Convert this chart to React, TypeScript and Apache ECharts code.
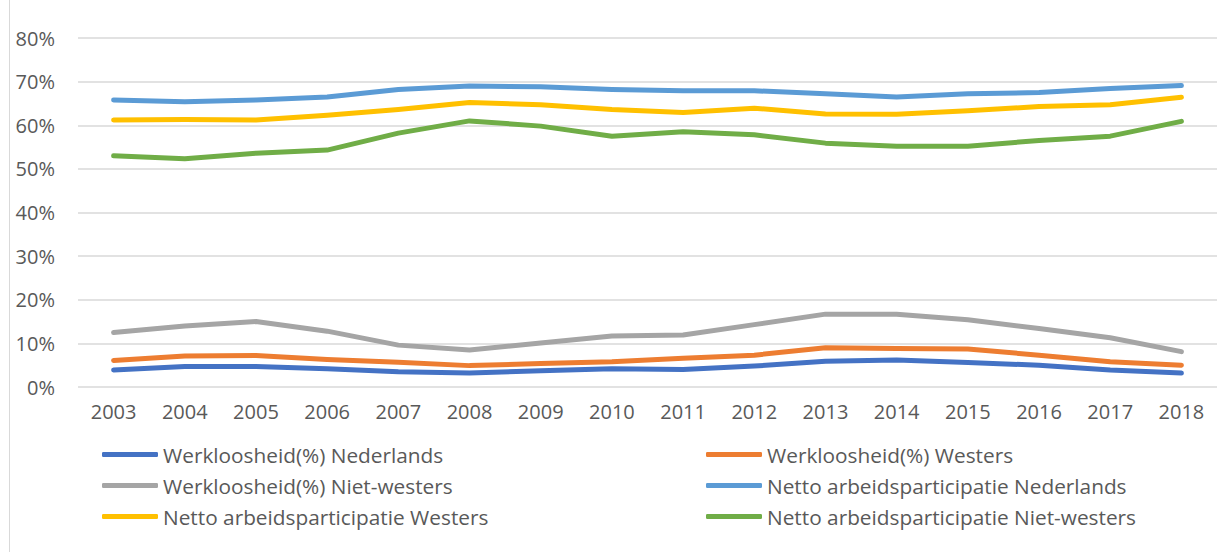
import React, { useEffect, useRef } from "react";
import * as echarts from "echarts";

const years = ["2003", "2004", "2005", "2006", "2007", "2008", "2009", "2010", "2011", "2012", "2013", "2014", "2015", "2016", "2017", "2018"];

const werkNederlands = [3.9, 4.7, 4.7, 4.2, 3.5, 3.2, 3.7, 4.2, 4.0, 4.8, 5.9, 6.2, 5.6, 5.0, 3.9, 3.2];
const werkWesters = [6.1, 7.1, 7.2, 6.3, 5.7, 4.9, 5.4, 5.8, 6.6, 7.3, 9.0, 8.8, 8.7, 7.3, 5.8, 5.0];
const werkNietWesters = [12.5, 14.0, 15.0, 12.8, 9.6, 8.5, 10.1, 11.7, 11.9, 14.3, 16.7, 16.7, 15.4, 13.4, 11.3, 8.1];
const nettoNederlands = [65.8, 65.4, 65.8, 66.5, 68.2, 69.0, 68.8, 68.2, 67.9, 67.9, 67.2, 66.5, 67.2, 67.5, 68.4, 69.1];
const nettoWesters = [61.2, 61.3, 61.2, 62.3, 63.6, 65.2, 64.7, 63.6, 62.9, 63.9, 62.6, 62.5, 63.3, 64.3, 64.7, 66.4];
const nettoNietWesters = [53.0, 52.3, 53.6, 54.3, 58.2, 61.0, 59.8, 57.5, 58.5, 57.8, 55.9, 55.2, 55.2, 56.5, 57.5, 60.9];

const seriesDefs = [
  { name: "Werkloosheid(%) Nederlands", data: werkNederlands, color: "#4472C4" },
  { name: "Werkloosheid(%) Westers", data: werkWesters, color: "#ED7D31" },
  { name: "Werkloosheid(%) Niet-westers", data: werkNietWesters, color: "#A5A5A5" },
  { name: "Netto arbeidsparticipatie Nederlands", data: nettoNederlands, color: "#5B9BD5" },
  { name: "Netto arbeidsparticipatie Westers", data: nettoWesters, color: "#FFC000" },
  { name: "Netto arbeidsparticipatie Niet-westers", data: nettoNietWesters, color: "#70AD47" },
];

const FONT = "'Open Sans', sans-serif";
const TEXT = "#595959";
const SIZE = 20;

export default function App() {
  const ref = useRef<HTMLDivElement>(null);

  useEffect(() => {
    if (!ref.current) return;
    const chart = echarts.init(ref.current, null, { renderer: "svg" });

    // two-column legend, one legend component per entry
    const legends = seriesDefs.map((s, i) => ({
      data: [s.name],
      left: i % 2 === 0 ? 102 : 706,
      top: 444 + Math.floor(i / 2) * 31,
      itemWidth: 56,
      itemHeight: 5,
      icon: "roundRect",
      padding: 0,
      textStyle: { color: TEXT, fontSize: 20.8, fontFamily: FONT },
    }));

    chart.setOption({
      animation: false,
      backgroundColor: "#ffffff",
      grid: { left: 78, right: -4, top: 38, bottom: 165, containLabel: false },
      legend: legends,
      xAxis: {
        type: "category",
        data: years,
        boundaryGap: true,
        axisLine: { show: false },
        axisTick: { show: false },
        axisLabel: { color: TEXT, fontSize: SIZE, fontFamily: FONT, margin: 14 },
      },
      yAxis: {
        type: "value",
        min: 0,
        max: 80,
        interval: 10,
        axisLine: { show: false },
        axisTick: { show: false },
        splitLine: { lineStyle: { color: "#D9D9D9", width: 1.5 } },
        axisLabel: { color: TEXT, fontSize: SIZE, fontFamily: FONT, margin: 23, formatter: "{value}%" },
      },
      graphic: [
        {
          type: "line",
          shape: { x1: 9.5, y1: 0, x2: 9.5, y2: 552 },
          style: { stroke: "#D9D9D9", lineWidth: 1 },
        },
      ],
      series: seriesDefs.map((s) => ({
        name: s.name,
        type: "line",
        data: s.data,
        symbol: "none",
        color: s.color,
        lineStyle: { width: 5, cap: "round", join: "round", color: s.color },
      })),
    });

    return () => chart.dispose();
  }, []);

  return <div ref={ref} style={{ position: "fixed", left: 0, top: 0, width: 1217, height: 552 }} />;
}
